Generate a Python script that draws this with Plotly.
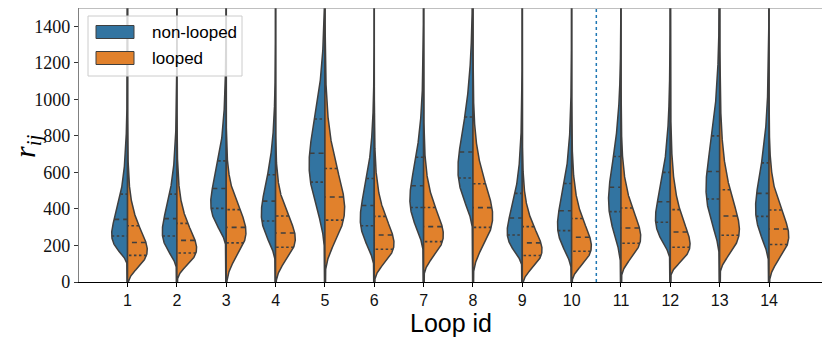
import numpy as np
import plotly.graph_objects as go

# ---------------- data ----------------
loop_ids = list(range(1, 15))
tick_labels = [str(i) for i in loop_ids]
y_ticks = [0, 200, 400, 600, 800, 1000, 1200, 1400]
hue_names = ["non-looped", "looped"]

# quartiles of r_ij per loop id (dashed lines in the violins)
nonlooped_q1 = [252, 252, 403, 334, 547, 308, 408, 569, 257, 281, 385, 327, 454, 359]
nonlooped_med = [343, 347, 512, 443, 705, 419, 527, 712, 350, 390, 519, 439, 605, 485]
nonlooped_q3 = [481, 481, 663, 587, 892, 567, 683, 903, 485, 539, 687, 600, 800, 652]
looped_q1 = [146, 159, 214, 190, 339, 179, 221, 299, 145, 168, 212, 190, 256, 205]
looped_med = [216, 228, 299, 268, 465, 257, 303, 407, 214, 245, 296, 274, 361, 290]
looped_q3 = [308, 321, 396, 361, 621, 359, 408, 538, 303, 348, 405, 396, 505, 394]

split_position = 10.5

# ---------------- style ----------------
BLUE = "#3274a1"
ORANGE = "#e1812c"
GRAY = "#3f3f3f"
HALF_WIDTH = 0.4
SANS = "Liberation Sans, Arial, sans-serif"
SERIF = "Liberation Serif, DejaVu Serif, serif"


def density_from_quartiles(q1, m, q3, grid, bw=22.0):
    """Smoothed shifted-lognormal density matching the three quartiles."""
    a, b = m - q1, q3 - m
    c = (q1 * q3 - m * m) / (b - a)
    s = np.log((m - c) / (q1 - c)) / 0.6745
    mu = np.log(m - c)
    yy = grid - c
    d = np.zeros_like(grid)
    ok = yy > 0
    d[ok] = np.exp(-0.5 * ((np.log(yy[ok]) - mu) / s) ** 2) / (yy[ok] * s * np.sqrt(2 * np.pi))
    step = grid[1] - grid[0]
    k = np.arange(-4 * bw, 4 * bw + step / 2, step)
    kern = np.exp(-0.5 * (k / bw) ** 2)
    kern /= kern.sum()
    return np.convolve(d, kern, mode="same")


grid = np.arange(-300.0, 2200.0, 2.0)

fig = go.Figure()

quart_lines = {"quart": ([], []), "med": ([], [])}

for i, lid in enumerate(loop_ids):
    d_nl = density_from_quartiles(nonlooped_q1[i], nonlooped_med[i], nonlooped_q3[i], grid)
    d_l = density_from_quartiles(looped_q1[i], looped_med[i], looped_q3[i], grid)
    mx = max(d_nl.max(), d_l.max())
    for dens, sign, col, qs in [
        (d_nl, -1, BLUE, (nonlooped_q1[i], nonlooped_med[i], nonlooped_q3[i])),
        (d_l, 1, ORANGE, (looped_q1[i], looped_med[i], looped_q3[i])),
    ]:
        hw = dens / mx * HALF_WIDTH
        xs = np.concatenate([lid + sign * hw, np.full(len(grid), float(lid))[::-1]])
        ys = np.concatenate([grid, grid[::-1]])
        fig.add_trace(go.Scatter(
            x=xs, y=ys, mode="lines", fill="toself", fillcolor=col,
            line=dict(color=GRAY, width=1.5), hoverinfo="skip", showlegend=False,
        ))
        for k, q in enumerate(qs):
            w = float(np.interp(q, grid, hw))
            key = "med" if k == 1 else "quart"
            quart_lines[key][0].extend([lid + sign * w, lid, None])
            quart_lines[key][1].extend([q, q, None])

fig.add_trace(go.Scatter(x=quart_lines["quart"][0], y=quart_lines["quart"][1], mode="lines",
                         line=dict(color=GRAY, width=1.6, dash="2.5px,2.5px"),
                         hoverinfo="skip", showlegend=False))
fig.add_trace(go.Scatter(x=quart_lines["med"][0], y=quart_lines["med"][1], mode="lines",
                         line=dict(color=GRAY, width=1.6, dash="5px,4px"),
                         hoverinfo="skip", showlegend=False))

# vertical dotted separator
fig.add_shape(type="line", xref="x", yref="paper", x0=split_position, x1=split_position,
              y0=0, y1=1, line=dict(color="#1f77b4", width=1.5, dash="dot"))

# top / right spines (gray)
fig.add_shape(type="line", xref="paper", yref="paper", x0=0, x1=1, y0=1, y1=1,
              line=dict(color="#808080", width=1.2))
fig.add_shape(type="line", xref="paper", yref="paper", x0=1, x1=1, y0=0, y1=1,
              line=dict(color="#808080", width=1.2))

# helpers: screen pixel -> paper coordinates (page body has an 8px margin;
# plot area on screen: x 79..823, y 8..282)
PW, PH = 744.0, 274.0
def px(x):
    return (x - 79.0) / PW
def py(y):
    return (282.0 - y) / PH

# legend (matplotlib style)
fig.add_shape(type="rect", xref="paper", yref="paper", x0=px(88), x1=px(242), y0=py(76), y1=py(16),
              line=dict(color="#cccccc", width=1), fillcolor="rgba(255,255,255,0.8)", layer="above")
for j, (name, col) in enumerate(zip(hue_names, [BLUE, ORANGE])):
    yc = 32 + j * 26
    fig.add_shape(type="rect", xref="paper", yref="paper", x0=px(96), x1=px(134),
                  y0=py(yc + 6.5), y1=py(yc - 6.5), line=dict(color=GRAY, width=1),
                  fillcolor=col, layer="above")
    fig.add_annotation(xref="paper", yref="paper", x=px(150), y=py(yc), text=name,
                       showarrow=False, xanchor="left", yanchor="middle",
                       font=dict(family=SANS, size=17, color="#000"))

# axis titles
fig.add_annotation(xref="paper", yref="paper", x=0.5, y=py(323), text="Loop id",
                   showarrow=False, xanchor="center", yanchor="middle",
                   font=dict(family=SANS, size=25, color="#000"))
fig.add_annotation(xref="paper", yref="paper", x=px(27), y=py(146),
                   text="<i>r</i><sub><i>ij</i></sub>", textangle=-90,
                   showarrow=False, xanchor="center", yanchor="middle",
                   font=dict(family=SERIF, size=30, color="#000"))

fig.update_layout(
    width=822, height=334,
    margin=dict(l=71, r=7, t=0, b=60, autoexpand=False),
    plot_bgcolor="white", paper_bgcolor="white",
    showlegend=False,
)
fig.update_xaxes(
    range=[0.016, 15.094], tickmode="array", tickvals=loop_ids, ticktext=tick_labels,
    showline=True, linecolor="black", linewidth=1.2, ticks="outside", ticklen=4,
    tickcolor="black", showgrid=False, zeroline=False, automargin=False,
    tickfont=dict(family=SANS, size=16, color="#111"),
)
fig.update_yaxes(
    range=[0, 1500], tickmode="array", tickvals=y_ticks, ticktext=[str(v) for v in y_ticks],
    showline=True, linecolor="#808080", linewidth=1.2, ticks="outside", ticklen=4,
    tickcolor="#333", showgrid=False, zeroline=False, automargin=False,
    tickfont=dict(family=SERIF, size=18, color="#111"),
)

fig.write_html("out.html")
